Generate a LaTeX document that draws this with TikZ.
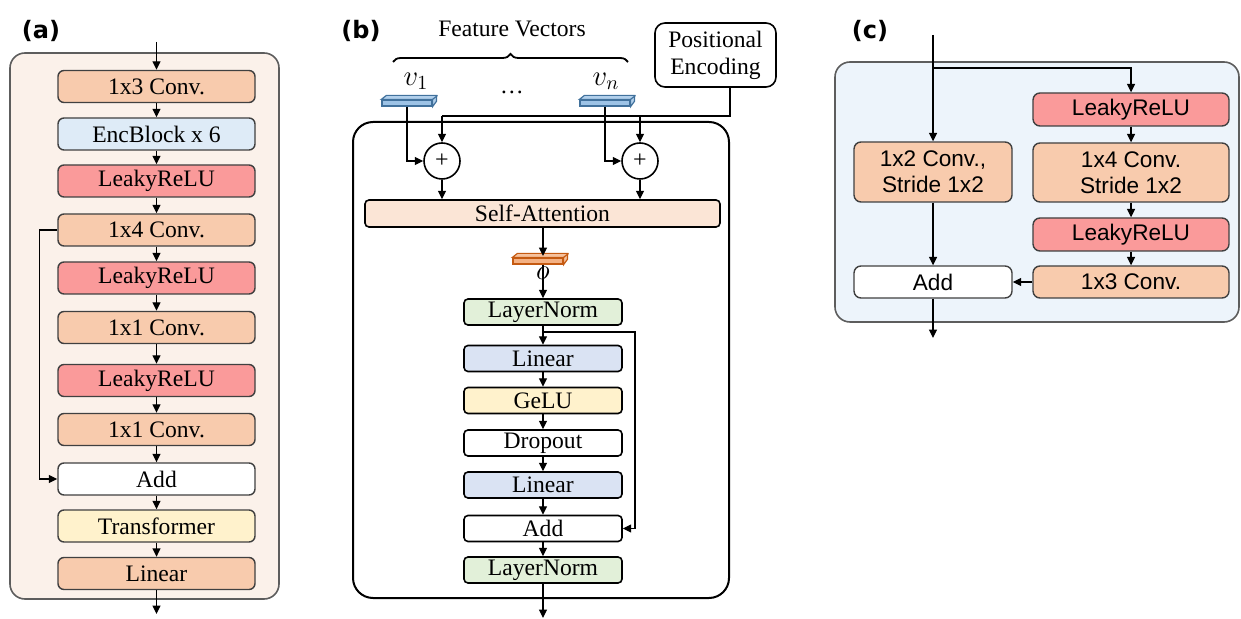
\documentclass[tikz,border=0pt]{standalone}
\usepackage{fontspec}
\setmainfont{Liberation Serif}
\setsansfont{Liberation Sans}
\newfontfamily\labfont{DejaVu Sans}
\usetikzlibrary{arrows.meta,decorations.pathreplacing}
\definecolor{convc}{HTML}{F8CBAD}
\definecolor{encc}{HTML}{DEEBF7}
\definecolor{leakc}{HTML}{FA9A9A}
\definecolor{transc}{HTML}{FFF2CC}
\definecolor{sac}{HTML}{FBE5D6}
\definecolor{lnc}{HTML}{E2F0D9}
\definecolor{linc}{HTML}{DAE3F3}
\definecolor{panelA}{HTML}{FBF1EA}
\definecolor{panelC}{HTML}{EDF4FB}
\definecolor{vecb}{HTML}{9DC3E6}
\definecolor{vecbd}{HTML}{41719C}
\definecolor{veco}{HTML}{F4B183}
\definecolor{vecod}{HTML}{C55A11}
\definecolor{bord}{HTML}{404040}
\tikzset{
  arr/.style={-{Triangle[length=4.2pt,width=4pt]}, line width=0.6pt},
  plain/.style={line width=0.6pt},
  panel/.style={draw=bord!85, line width=0.8pt, rounded corners=7.5pt},
  abox/.style={draw=bord, line width=0.7pt, rounded corners=3pt, minimum width=98.5pt, minimum height=16pt, inner sep=0pt, font=\fontsize{11.8}{13}\selectfont},
  bbox/.style={draw=black, line width=0.8pt, rounded corners=2pt, minimum width=79pt, minimum height=13pt, inner sep=0pt, font=\fontsize{11.8}{13}\selectfont},
  cbox/.style={draw=bord, line width=0.7pt, rounded corners=3.5pt, inner sep=0pt, align=center, font=\sffamily\fontsize{11.3}{13}\selectfont},
  lab/.style={font=\labfont\bfseries\fontsize{12}{14}\selectfont, inner sep=0pt},
  txt/.style={font=\fontsize{11.8}{13}\selectfont, inner sep=0pt},
  mth/.style={font=\fontsize{14}{16}\selectfont, inner sep=0pt},
  bar/.style={rectangle, inner sep=0pt, minimum width=25pt, minimum height=3pt, line width=0.6pt},
  psum/.style={circle, draw=black, line width=0.8pt, minimum size=18pt, inner sep=0pt, font=\fontsize{12}{13}\selectfont}
}
\begin{document}
\begin{tikzpicture}[x=0.5pt,y=-0.5pt]
\useasboundingbox (0,0) rectangle (1241,619);
% ================= (a) =================
\node[lab] (la) at (41,31) {(a)};
\draw[panel, fill=panelA] (10,53) rectangle (279,599);
\node[abox, fill=convc]  (a1)  at (156.5,86.5) {1x3 Conv.};
\node[abox, fill=encc]   (a2)  at (156.5,134)  {EncBlock x 6};
\node[abox, fill=leakc]  (a3)  at (156.5,181)  {LeakyReLU};
\node[abox, fill=convc]  (a4)  at (156.5,230)  {1x4 Conv.};
\node[abox, fill=leakc]  (a5)  at (156.5,278)  {LeakyReLU};
\node[abox, fill=convc]  (a6)  at (156.5,327.5) {1x1 Conv.};
\node[abox, fill=leakc]  (a7)  at (156.5,380.5) {LeakyReLU};
\node[abox, fill=convc]  (a8)  at (156.5,429.5) {1x1 Conv.};
\node[abox, fill=white]  (a9)  at (156.5,479)  {Add};
\node[abox, fill=transc] (a10) at (156.5,526)  {Transformer};
\node[abox, fill=convc]  (a11) at (156.5,573.5) {Linear};
\coordinate (ain) at (156.5,42);
\coordinate (aout) at (156.5,614);
\draw[arr] (ain) -- (a1);
\foreach \i/\j in {a1/a2,a2/a3,a3/a4,a4/a5,a5/a6,a6/a7,a7/a8,a8/a9,a9/a10,a10/a11}
  \draw[arr] (\i) -- (\j);
\draw[arr] (a11) -- (aout);
\draw[arr] (a4.west) -- ++(-18,0) |- (a9.west);
% ================= (b) =================
\node[lab] (lb) at (361,31) {(b)};
\node[txt] (fv) at (512,29) {Feature Vectors};
\draw[line width=0.9pt, decorate, decoration={brace, amplitude=4pt}] (393,62) -- (628,62);
\node[mth] (v1l) at (416,81) {$v_1$};
\node[mth] (vnl) at (606,81) {$v_n$};
\node[txt] (dots) at (512,92) {…};
\node[draw=black, line width=0.8pt, rounded corners=5pt, minimum width=60.5pt, minimum height=32pt, inner sep=0pt, align=center, font=\fontsize{11.8}{13.5}\selectfont] (pe) at (715.5,55) {Positional\\Encoding};
\draw[line width=1pt, rounded corners=10pt, fill=white] (353,122) rectangle (729,598);
% vector bars
\node[bar, fill=vecb, draw=vecbd] (v1) at (407,103) {};
\filldraw[fill=vecb!80!white, draw=vecbd, line width=0.6pt] (v1.north west) -- ++(5,-4) -- ++(50,0) -- ++(0,6) -- (v1.south east) -- (v1.north east) -- cycle;
\draw[vecbd, line width=0.6pt] (v1.north east) -- ++(5,-4);
\node[bar, fill=vecb, draw=vecbd] (vn) at (605,103) {};
\filldraw[fill=vecb!80!white, draw=vecbd, line width=0.6pt] (vn.north west) -- ++(5,-4) -- ++(50,0) -- ++(0,6) -- (vn.south east) -- (vn.north east) -- cycle;
\draw[vecbd, line width=0.6pt] (vn.north east) -- ++(5,-4);
% sums
\node[psum] (p1) at (442,161) {+};
\node[psum] (p2) at (640,161) {+};
\coordinate (j0) at (730,116);
\coordinate (j1) at (442,116);
\coordinate (j2) at (640,116);
\draw[plain] (pe.south -| j0) -- (j0) -- (j1);
\draw[arr] (j1) -- (p1);
\draw[arr] (j2) -- (p2);
\draw[arr] (v1.south) |- (p1.west);
\draw[arr] (vn.south) |- (p2.west);
\node[draw=black, line width=0.8pt, rounded corners=2pt, fill=sac, minimum width=177.5pt, minimum height=13.5pt, inner sep=0pt, font=\fontsize{11.8}{13}\selectfont] (sa) at (542.5,213.5) {Self-Attention};
\draw[arr] (p1) -- (p1 |- sa.north);
\draw[arr] (p2) -- (p2 |- sa.north);
% output bar
\node[bar, fill=veco, draw=vecod] (ob) at (538,261) {};
\filldraw[fill=veco!80!white, draw=vecod, line width=0.6pt] (ob.north west) -- ++(5,-4) -- ++(50,0) -- ++(0,6) -- (ob.south east) -- (ob.north east) -- cycle;
\draw[vecod, line width=0.6pt] (ob.north east) -- ++(5,-4);
\coordinate (otop) at (543,256);
\draw[arr] (sa.south -| otop) -- (otop);
% inner stack
\node[bbox, fill=lnc]   (b1) at (543,312)   {LayerNorm};
\node[bbox, fill=linc]  (b2) at (543,358.5) {Linear};
\node[bbox, fill=transc](b3) at (543,400.5) {GeLU};
\node[bbox, fill=white] (b4) at (543,443)   {Dropout};
\node[bbox, fill=linc]  (b5) at (543,485)   {Linear};
\node[bbox, fill=white] (b6) at (543,528.5) {Add};
\node[bbox, fill=lnc]   (b7) at (543,570)   {LayerNorm};
\draw[arr] (ob.south -| otop) -- (b1.north -| otop);
\node[mth] (ol) at (543,273) {$o$};
\foreach \i/\j in {b1/b2,b2/b3,b3/b4,b4/b5,b5/b6,b6/b7}
  \draw[arr] (\i) -- (\j);
\coordinate (bout) at (543,618);
\draw[arr] (b7) -- (bout);
\coordinate (s1) at (543,332);
\coordinate (s2) at (635,332);
\draw[arr] (s1) -- (s2) |- (b6.east);
% ================= (c) =================
\node[lab] (lc) at (870,31) {(c)};
\draw[panel, fill=panelC] (835,62) rectangle (1239,322);
\node[cbox, fill=leakc, minimum width=98pt, minimum height=16.5pt] (c1) at (1131,109.5) {LeakyReLU};
\node[cbox, fill=convc, minimum width=98pt, minimum height=29.5pt] (c2) at (1131,172.5) {1x4 Conv.\\Stride 1x2};
\node[cbox, fill=leakc, minimum width=98pt, minimum height=16.5pt] (c3) at (1131,234.5) {LeakyReLU};
\node[cbox, fill=convc, minimum width=98pt, minimum height=16pt] (c4) at (1131,282) {1x3 Conv.};
\node[cbox, fill=convc, minimum width=79pt, minimum height=30pt] (c5) at (933,172) {1x2 Conv.,\\Stride 1x2};
\node[cbox, fill=white, minimum width=79pt, minimum height=16pt] (c6) at (933,282) {Add};
\coordinate (cin) at (933,35);
\coordinate (cb) at (933,68);
\coordinate (cout) at (933,338);
\draw[arr] (cin) -- (c5);
\draw[arr] (cb) -| (c1.north);
\draw[arr] (c1) -- (c2);
\draw[arr] (c2) -- (c3);
\draw[arr] (c3) -- (c4);
\draw[arr] (c4) -- (c6);
\draw[arr] (c5) -- (c6);
\draw[arr] (c6) -- (cout);
\end{tikzpicture}
\end{document}
